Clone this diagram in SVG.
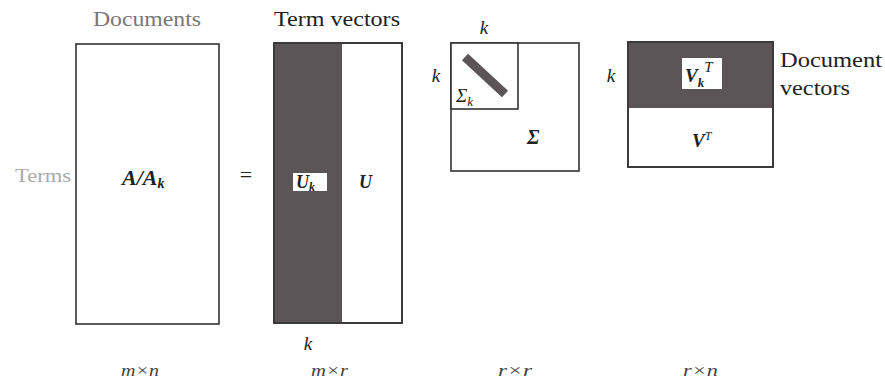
<svg xmlns="http://www.w3.org/2000/svg" width="885" height="381" viewBox="0 0 885 381">
<style>
.box{fill:#fff;stroke:#333;stroke-width:1.6}
.dark{fill:#5b5558}
text{fill:#222}
.it{font-style:italic}
.bi{font-style:italic;font-weight:bold}
.lbl{font-size:20px}
.m{font-size:17px;fill:#444;font-style:italic}
</style>
<rect width="885" height="381" fill="#fff"/>
<g font-family="Liberation Serif, DejaVu Serif, serif">
<g id="A">
<text class="lbl" x="93" y="26" textLength="108" lengthAdjust="spacingAndGlyphs" style="fill:#777">Documents</text>
<text x="15" y="182" font-size="18" textLength="56" lengthAdjust="spacingAndGlyphs" style="fill:#aaa">Terms</text>
<rect class="box" x="76" y="44" width="143" height="280"/>
<text class="bi" x="122" y="185" font-size="22">A/A<tspan font-size="14" dy="3">k</tspan></text>
<text class="m" x="121" y="376" textLength="38" lengthAdjust="spacingAndGlyphs">m×n</text>
</g>
<text x="246" y="182" font-size="22" text-anchor="middle">=</text>
<g id="U">
<text class="lbl" x="274" y="26" textLength="126" lengthAdjust="spacingAndGlyphs">Term vectors</text>
<rect class="box" x="274" y="43" width="128" height="280"/>
<rect class="dark" x="274" y="43" width="68" height="280"/>
<rect x="274" y="43" width="128" height="280" fill="none" stroke="#333" stroke-width="1.6"/>
<rect x="293" y="173" width="34" height="18" fill="#fff"/>
<text class="bi" x="296" y="188" font-size="18">U<tspan font-size="12" dy="3">k</tspan></text>
<text class="bi" x="359" y="188" font-size="18">U</text>
<text class="it" x="308" y="350" font-size="19" text-anchor="middle">k</text>
<text class="m" x="311" y="376" textLength="37" lengthAdjust="spacingAndGlyphs">m×r</text>
</g>
<g id="Sigma">
<rect class="box" x="451" y="43" width="128" height="128"/>
<rect class="box" x="451" y="43" width="67" height="66"/>
<line x1="465" y1="57" x2="505" y2="94" stroke="#5b5558" stroke-width="9"/>
<text class="it" x="484" y="34" font-size="19" text-anchor="middle">k</text>
<text class="it" x="436" y="82" font-size="19" text-anchor="middle">k</text>
<text class="it" x="456" y="102" font-size="19">Σ<tspan font-size="13" dy="4">k</tspan></text>
<text class="bi" x="527" y="144" font-size="20">Σ</text>
<text class="m" x="498" y="376" textLength="34" lengthAdjust="spacingAndGlyphs">r×r</text>
</g>
<g id="V">
<rect class="box" x="628" y="42" width="145" height="125"/>
<rect class="dark" x="628" y="42" width="145" height="66"/>
<rect x="628" y="42" width="145" height="125" fill="none" stroke="#333" stroke-width="1.6"/>
<rect x="682" y="58" width="40" height="31" fill="#fff"/>
<text class="bi" x="685" y="82" font-size="19">V<tspan font-size="13" dy="5">k</tspan><tspan font-size="15" dy="-15" font-weight="normal">T</tspan></text>
<text class="bi" x="692" y="147" font-size="19">V<tspan font-size="12" dy="-7" font-weight="normal">T</tspan></text>
<text class="it" x="611" y="82" font-size="19" text-anchor="middle">k</text>
<text class="lbl" x="780" y="67" textLength="102" lengthAdjust="spacingAndGlyphs">Document</text>
<text class="lbl" x="780" y="95" textLength="70" lengthAdjust="spacingAndGlyphs">vectors</text>
<text class="m" x="683" y="376" textLength="35" lengthAdjust="spacingAndGlyphs">r×n</text>
</g>
</g>
</svg>
